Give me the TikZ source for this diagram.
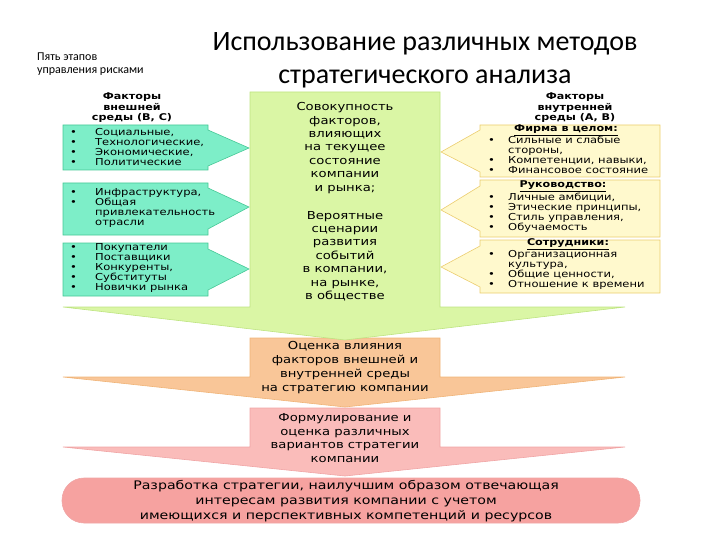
\documentclass[tikz,border=0pt]{standalone}
\usepackage{fontspec}
\setmainfont{DejaVu Sans}[FakeStretch=1.2]
\newfontfamily\titlefont{Carlito}
\usepackage{tikz}
\usetikzlibrary{positioning}

\definecolor{mint}{RGB}{125,238,200}
\definecolor{mintline}{RGB}{70,200,150}
\definecolor{cream}{RGB}{255,249,205}
\definecolor{creamline}{RGB}{235,205,110}
\definecolor{lime}{RGB}{218,246,165}
\definecolor{limeline}{RGB}{190,228,130}
\definecolor{peach}{RGB}{249,198,152}
\definecolor{peachline}{RGB}{240,180,120}
\definecolor{rose}{RGB}{250,188,186}
\definecolor{roseline}{RGB}{240,165,165}
\definecolor{coral}{RGB}{246,162,160}

\newcommand{\bul}{\makebox[25pt][l]{\textbullet}}
\newcommand{\rbul}{\makebox[20pt][l]{\textbullet}}

\begin{document}
\begin{tikzpicture}[x=1pt,y=-1pt,
  txt/.style={inner sep=0pt,align=center,font=\fontsize{11}{13.4}\selectfont},
  lst/.style={inner sep=0pt,align=left,anchor=north west,font=\fontsize{9.6}{10}\selectfont},
  head/.style={inner sep=0pt,align=center,font=\fontsize{9.3}{10.5}\selectfont\bfseries},
  extbox/.style={fill=mint,draw=mintline,line width=0.6pt},
  intbox/.style={fill=cream,draw=creamline,line width=0.6pt}]

\useasboundingbox (0,0) rectangle (720,540);

\node[inner sep=0pt,font=\titlefont\fontsize{28}{33}\selectfont,align=center] (title) at (425,60)
  {Использование различных методов\\стратегического анализа};
\node[inner sep=0pt,font=\titlefont\fontsize{12}{13}\selectfont,align=left,anchor=north west] (steps) at (37,53)
  {Пять этапов\\управления рисками};

\draw[fill=coral,draw=roseline,line width=0.6pt,rounded corners=22pt] (62,478) rectangle (640,523);
\draw[fill=rose,draw=roseline,line width=0.6pt] (250,408) -- (440,408) -- (440,447) -- (625,447) -- (345,476) -- (63,447) -- (250,447) -- cycle;
\draw[fill=peach,draw=peachline,line width=0.6pt] (250,338) -- (440,338) -- (440,377) -- (625,377) -- (345,407) -- (63,377) -- (250,377) -- cycle;
\draw[fill=lime,draw=limeline,line width=0.6pt] (250,92) -- (440,92) -- (440,307) -- (625,307) -- (345,340) -- (63,307) -- (250,307) -- cycle;

\draw[extbox] (63,125) -- (208,125) -- (208,130) -- (249,148) -- (208,166) -- (208,170) -- (63,170) -- cycle;
\draw[extbox] (63,183) -- (208,183) -- (208,188) -- (249,207) -- (208,229) -- (208,235) -- (63,235) -- cycle;
\draw[extbox] (63,243) -- (208,243) -- (208,249) -- (249,269) -- (208,290) -- (208,296) -- (63,296) -- cycle;

\draw[intbox] (660,125) -- (480,125) -- (480,130) -- (441,152) -- (480,172) -- (480,177) -- (660,177) -- cycle;
\draw[intbox] (660,180) -- (480,180) -- (480,186) -- (441,210) -- (480,231) -- (480,237) -- (660,237) -- cycle;
\draw[intbox] (660,240) -- (480,240) -- (480,246) -- (441,267) -- (480,287) -- (480,293) -- (660,293) -- cycle;

\node[head] (exthead) at (132,108) {Факторы\\внешней\\среды (В, С)};
\node[head] (inthead) at (575,108) {Факторы\\внутренней\\среды (А, В)};

\node[lst] (ext1) at (70,128) {\bul Социальные,\\\bul Технологические,\\\bul Экономические,\\\bul Политические};
\node[lst] (ext2) at (70,188) {\bul Инфраструктура,\\\bul Общая\\\hspace*{25pt}привлекательность\\\hspace*{25pt}отрасли};
\node[lst] (ext3) at (70,243) {\bul Покупатели\\\bul Поставщики\\\bul Конкуренты,\\\bul Субституты\\\bul Новички рынка};

\node[head] (firm) at (566,130) {\underline{Фирма в целом:}};
\node[lst] (int1) at (488,136) {\rbul Сильные и слабые\\\hspace*{20pt}стороны,\\\rbul Компетенции, навыки,\\\rbul Финансовое состояние};
\node[head] (boss) at (563,186) {\underline{Руководство:}};
\node[lst] (int2) at (488,193) {\rbul Личные амбиции,\\\rbul Этические принципы,\\\rbul Стиль управления,\\\rbul Обучаемость};
\node[head] (staff) at (568,244) {\underline{Сотрудники:}};
\node[lst] (int3) at (488,250) {\rbul Организационная\\\hspace*{20pt}культура,\\\rbul Общие ценности,\\\rbul Отношение к времени};

\node[txt] (sumA) at (345,148) {Совокупность\\факторов,\\влияющих\\на текущее\\состояние\\компании\\и рынка;};
\node[txt] (sumB) at (345,256) {Вероятные\\сценарии\\развития\\событий\\в компании,\\на рынке,\\в обществе};
\node[txt,font=\fontsize{11}{14}\selectfont] (eval) at (345,368) {Оценка влияния\\факторов внешней и\\внутренней среды\\на стратегию компании};
\node[txt,font=\fontsize{11}{13.6}\selectfont] (form) at (345,438) {Формулирование и\\оценка различных\\вариантов стратегии\\компании};
\node[txt,font=\fontsize{11.8}{15}\selectfont] (final) at (346,501)
  {Разработка стратегии, наилучшим образом отвечающая\\интересам развития компании с учетом\\имеющихся и перспективных компетенций и ресурсов};

\end{tikzpicture}
\end{document}
